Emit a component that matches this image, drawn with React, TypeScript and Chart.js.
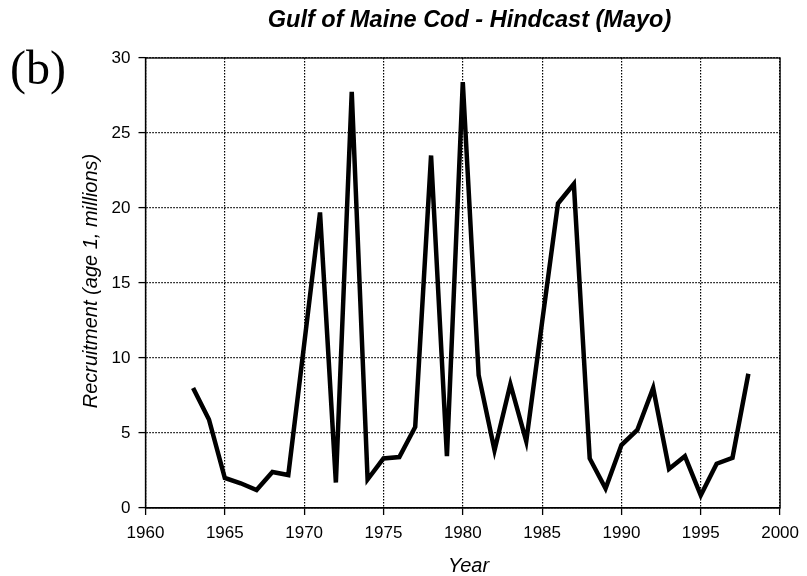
import React, { useEffect, useRef } from "react";
import { Chart, registerables } from "chart.js";

Chart.register(...registerables);

const years: number[] = [
  1963, 1964, 1965, 1966, 1967, 1968, 1969, 1970, 1971, 1972, 1973, 1974,
  1975, 1976, 1977, 1978, 1979, 1980, 1981, 1982, 1983, 1984, 1985, 1986,
  1987, 1988, 1989, 1990, 1991, 1992, 1993, 1994, 1995, 1996, 1997, 1998,
];
const recruitment: number[] = [
  8.0, 5.9, 2.0, 1.65, 1.2, 2.4, 2.2, 10.9, 19.7, 1.7, 27.75, 1.9,
  3.3, 3.4, 5.4, 23.5, 3.45, 28.4, 8.85, 3.85, 8.25, 4.45, 12.4, 20.3,
  21.6, 3.3, 1.3, 4.2, 5.2, 8.0, 2.6, 3.45, 0.85, 2.95, 3.35, 8.95,
];

const TITLE = "Gulf of Maine Cod - Hindcast (Mayo)";
const PANEL = "(b)";
const X_TITLE = "Year";
const Y_TITLE = "Recruitment (age 1, millions)";
const X_MIN = 1960;
const X_MAX = 2000;
const X_STEP = 5;
const Y_MIN = 0;
const Y_MAX = 30;
const Y_STEP = 5;

const SANS = 'Arial, "Liberation Sans", sans-serif';

const decorPlugin = {
  id: "decor",
  afterDraw(chart: any) {
    const { ctx, chartArea } = chart;
    const { left, right, top, bottom } = chartArea;
    ctx.save();
    // box border
    ctx.strokeStyle = "#000";
    ctx.lineWidth = 1.3;
    ctx.setLineDash([]);
    ctx.strokeRect(left, top, right - left, bottom - top);
    // title
    ctx.fillStyle = "#000";
    ctx.textAlign = "center";
    ctx.textBaseline = "alphabetic";
    ctx.font = `italic bold 23.5px ${SANS}`;
    ctx.fillText(TITLE, 469.5, 27);
    // panel label
    ctx.textAlign = "left";
    ctx.font = '48px "Liberation Serif", "Times New Roman", serif';
    ctx.fillText(PANEL, 10, 84);
    // x title
    ctx.textAlign = "center";
    ctx.font = `italic 20px ${SANS}`;
    ctx.fillText(X_TITLE, 468.5, 572);
    // y title
    ctx.textBaseline = "middle";
    ctx.translate(91, 281);
    ctx.rotate(-Math.PI / 2);
    ctx.fillText(Y_TITLE, 0, 0);
    ctx.restore();
  },
};

export default function App() {
  const ref = useRef<HTMLCanvasElement | null>(null);

  useEffect(() => {
    if (!ref.current) return;
    const data = years.map((y, i) => ({ x: y, y: recruitment[i] }));
    const gridOpts = {
      color: "#000",
      lineWidth: 1.2,
      tickLength: 7,
      tickColor: "#000",
      tickWidth: 1.3,
      tickBorderDash: [],
    };
    const chart = new Chart(ref.current, {
      type: "line",
      data: {
        datasets: [
          {
            data,
            borderColor: "#000",
            borderWidth: 4.5,
            pointRadius: 0,
            tension: 0,
            borderJoinStyle: "miter",
            fill: false,
          },
        ],
      },
      options: {
        responsive: false,
        animation: false,
        devicePixelRatio: 1,
        layout: { padding: { top: 58, right: 19.5, left: 0, bottom: 0 } },
        plugins: {
          legend: { display: false },
          title: { display: false },
          tooltip: { enabled: false },
        },
        scales: {
          x: {
            type: "linear",
            min: X_MIN,
            max: X_MAX,
            afterFit: (s: any) => {
              s.height = 68;
            },
            ticks: {
              stepSize: X_STEP,
              color: "#000",
              font: { family: SANS, size: 17 },
              padding: 8,
              maxRotation: 0,
              callback: (v: any) => String(v),
            },
            grid: gridOpts,
            border: { display: true, color: "#000", width: 1.3, dash: [1.5, 1.5] },
          },
          y: {
            type: "linear",
            min: Y_MIN,
            max: Y_MAX,
            afterFit: (s: any) => {
              s.width = 145.5;
            },
            ticks: {
              stepSize: Y_STEP,
              color: "#000",
              font: { family: SANS, size: 17 },
              padding: 8,
            },
            grid: gridOpts,
            border: { display: true, color: "#000", width: 1.3, dash: [1.5, 1.5] },
          },
        },
      } as any,
      plugins: [decorPlugin],
    });
    return () => chart.destroy();
  }, []);

  return (
    <div style={{ position: "absolute", left: 0, top: 0, width: 807, height: 576 }}>
      <canvas ref={ref} width={807} height={576} />
    </div>
  );
}
